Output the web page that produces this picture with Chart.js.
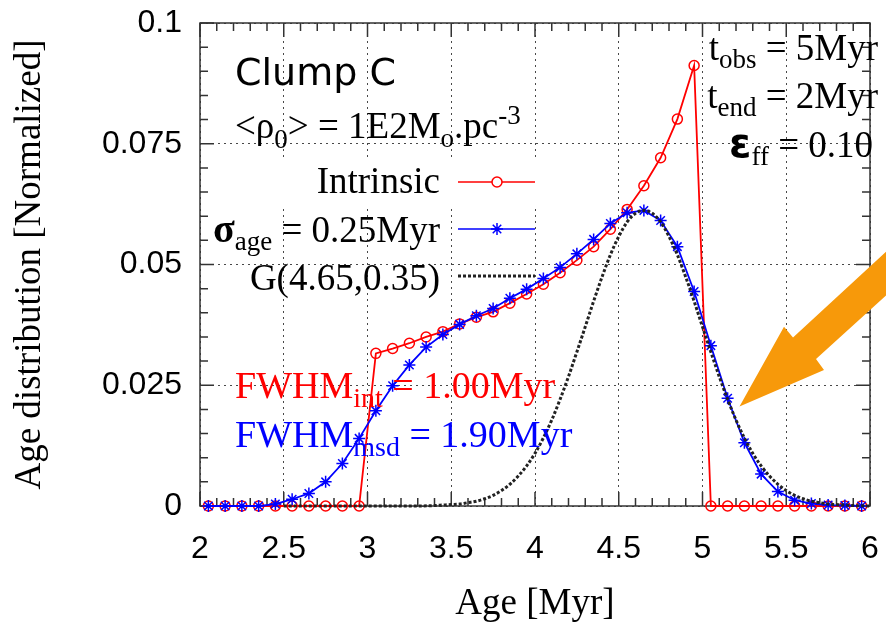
<!DOCTYPE html>
<html>
<head>
<meta charset="utf-8">
<script src="https://cdn.jsdelivr.net/npm/chart.js@4.4.0/dist/chart.umd.min.js"></script>
<style>
  html, body { margin: 0; padding: 0; background: #fff; }
  canvas { display: block; }
</style>
</head>
<body>
<canvas id="ageChart" width="886" height="636"></canvas>
<script>
// bin centres [Myr]
const ages = [2.05, 2.15, 2.25, 2.35, 2.45, 2.55, 2.65, 2.75, 2.85, 2.95,
              3.05, 3.15, 3.25, 3.35, 3.45, 3.55, 3.65, 3.75, 3.85, 3.95,
              4.05, 4.15, 4.25, 4.35, 4.45, 4.55, 4.65, 4.75, 4.85, 4.95,
              5.05, 5.15, 5.25, 5.35, 5.45, 5.55, 5.65, 5.75, 5.85, 5.95];
// intrinsic age distribution (red circles)
const intrinsic = [0, 0, 0, 0, 0, 0, 0, 0, 0, 0,
                   0.0316, 0.0326, 0.0337, 0.0350, 0.0361, 0.0377, 0.0391, 0.0402, 0.0420, 0.0439,
                   0.0459, 0.0483, 0.0509, 0.0537, 0.0573, 0.0614, 0.0663, 0.0721, 0.0801, 0.0912,
                   0, 0, 0, 0, 0, 0, 0, 0, 0, 0];
// sigma_age = 0.25 Myr (blue stars)
const measured = [0, 0, 0, 0, 0.0004, 0.0014, 0.0026, 0.0050, 0.0088, 0.0140,
                  0.0197, 0.0249, 0.0292, 0.0329, 0.0355, 0.0376, 0.0394, 0.0409, 0.0430, 0.0449,
                  0.0471, 0.0494, 0.0522, 0.0552, 0.0585, 0.0607, 0.0612, 0.0591, 0.0537, 0.0444,
                  0.0332, 0.0223, 0.0131, 0.0066, 0.0030, 0.0012, 0.0005, 0.0002, 0.0001, 0];
// G(4.65,0.35) dotted curve
const gaussAges = [2.5, 3.0, 3.3,
                   3.40, 3.45, 3.50, 3.55, 3.60, 3.65, 3.70, 3.75, 3.80, 3.85, 3.90, 3.95,
                   4.00, 4.05, 4.10, 4.15, 4.20, 4.25, 4.30, 4.35, 4.40, 4.45, 4.50, 4.55,
                   4.60, 4.65, 4.70, 4.75, 4.80, 4.85, 4.90, 4.95, 5.00, 5.05, 5.10, 5.15,
                   5.20, 5.25, 5.30, 5.35, 5.40, 5.45, 5.50, 5.55, 5.60, 5.65, 5.70, 5.75,
                   5.80, 5.85, 5.90, 6.0];
const gaussValues = [0, 0, 0,
                     0.0001, 0.0002, 0.0003, 0.0004, 0.0007, 0.0010, 0.0015, 0.0022, 0.0032, 0.0045, 0.0062, 0.0083,
                     0.0109, 0.0141, 0.0178, 0.0221, 0.0268, 0.0319, 0.0371, 0.0424, 0.0474, 0.0520, 0.0558, 0.0588,
                     0.0606, 0.0612, 0.0606, 0.0588, 0.0558, 0.0520, 0.0474, 0.0424, 0.0371, 0.0319, 0.0268, 0.0221,
                     0.0178, 0.0141, 0.0109, 0.0083, 0.0062, 0.0045, 0.0032, 0.0022, 0.0015, 0.0010, 0.0007, 0.0004,
                     0.0003, 0.0002, 0.0001, 0];

const xTicks = [2, 2.5, 3, 3.5, 4, 4.5, 5, 5.5, 6];
const xTickLabels = ['2', '2.5', '3', '3.5', '4', '4.5', '5', '5.5', '6'];
const yTicks = [0, 0.025, 0.05, 0.075, 0.1];
const yTickLabels = ['0', '0.025', '0.05', '0.075', '0.1'];

const SERIF = '"Liberation Serif", "Times New Roman", serif';
const RED = '#ff0000';
const BLUE = '#0000ff';

// text with sub/superscripts: parts = [text, font, dy]
function drawRich(ctx, parts, x, y, align, color) {
    ctx.fillStyle = color;
    ctx.textBaseline = 'alphabetic';
    ctx.textAlign = 'left';
    let total = 0;
    parts.forEach(p => { ctx.font = p[1]; total += ctx.measureText(p[0]).width; });
    let cx = align === 'right' ? x - total : x;
    parts.forEach(p => {
        ctx.font = p[1];
        ctx.fillText(p[0], cx, y + p[2]);
        cx += ctx.measureText(p[0]).width;
    });
}

const big = '37px ' + SERIF;
const small = '27px ' + SERIF;

const decorPlugin = {
    id: 'decor',
    beforeDatasetsDraw(chart) {
        const {ctx, chartArea: a, scales: {x, y}} = chart;
        ctx.save();
        // opaque key row
        ctx.fillStyle = '#fff';
        ctx.fillRect(a.left + 1, 158, 340, 49);

        // frame
        ctx.strokeStyle = '#333';
        ctx.lineWidth = 1.5;
        ctx.strokeRect(a.left, a.top, a.right - a.left, a.bottom - a.top);

        // inward ticks on all sides
        ctx.beginPath();
        for (let i = 0; i <= 40; i++) {
            const px = x.getPixelForValue(2 + i * 0.1);
            const len = i % 5 === 0 ? 14 : 8;
            ctx.moveTo(px, a.bottom); ctx.lineTo(px, a.bottom - len);
            ctx.moveTo(px, a.top); ctx.lineTo(px, a.top + len);
        }
        for (let i = 0; i <= 20; i++) {
            const py = y.getPixelForValue(i * 0.005);
            const len = i % 5 === 0 ? 14 : 8;
            ctx.moveTo(a.left, py); ctx.lineTo(a.left + len, py);
            ctx.moveTo(a.right, py); ctx.lineTo(a.right - len, py);
        }
        ctx.stroke();
        ctx.restore();
    },
    afterDraw(chart) {
        const ctx = chart.ctx;
        ctx.save();

        ctx.fillStyle = '#000';
        ctx.font = '38px "DejaVu Sans", sans-serif';
        ctx.textBaseline = 'alphabetic';
        ctx.fillText('Clump C', 235, 85);

        drawRich(ctx, [['<ρ', big, 0], ['0', small, 10], ['> = 1E2M', big, 0], ['o', small, 9],
                       ['.pc', big, 0], ['-3', small, -14]], 235, 138, 'left', '#000');

        // key
        drawRich(ctx, [['Intrinsic', big, 0]], 440, 193, 'right', '#000');
        drawRich(ctx, [['σ', 'bold 40px ' + SERIF, 0], ['age', small, 8], [' = 0.25Myr', big, 0]], 440, 242, 'right', '#000');
        drawRich(ctx, [['G(4.65,0.35)', big, 0]], 440, 290, 'right', '#000');

        ctx.lineWidth = 1.5;
        ctx.strokeStyle = RED;
        ctx.beginPath(); ctx.moveTo(458, 182); ctx.lineTo(535, 182); ctx.stroke();
        ctx.fillStyle = '#fff';
        Chart.helpers.drawPoint(ctx, {pointStyle: 'circle', radius: 5, rotation: 0, borderWidth: 1.5}, 497, 182);
        ctx.strokeStyle = BLUE;
        ctx.beginPath(); ctx.moveTo(458, 229); ctx.lineTo(535, 229); ctx.stroke();
        Chart.helpers.drawPoint(ctx, {pointStyle: 'star', radius: 6, rotation: 0, borderWidth: 1.5}, 497, 229);
        ctx.strokeStyle = '#222';
        ctx.lineWidth = 3;
        ctx.setLineDash([3, 2]);
        ctx.beginPath(); ctx.moveTo(458, 276); ctx.lineTo(535, 276); ctx.stroke();
        ctx.setLineDash([]);

        // run parameters
        drawRich(ctx, [['t', big, 0], ['obs', small, 8], [' = 5Myr', big, 0]], 878, 60, 'right', '#000');
        drawRich(ctx, [['t', big, 0], ['end', small, 8], [' = 2Myr', big, 0]], 878, 108, 'right', '#000');
        drawRich(ctx, [['ε', 'bold 40px "DejaVu Sans", sans-serif', 0], ['ff', small, 8], [' = 0.10', big, 0]], 873, 157, 'right', '#000');

        const fw = '38px ' + SERIF;
        const fws = '28px ' + SERIF;
        drawRich(ctx, [['FWHM', fw, 0], ['int', fws, 9], [' = 1.00Myr', fw, 0]], 235, 398, 'left', RED);
        drawRich(ctx, [['FWHM', fw, 0], ['msd', fws, 9], [' = 1.90Myr', fw, 0]], 235, 447, 'left', BLUE);

        // orange arrow annotation
        ctx.fillStyle = '#f7990a';
        ctx.beginPath();
        [[739.5, 406.5], [784, 326.7], [793, 337.5], [890, 248], [890, 292],
         [816, 359], [824, 370]].forEach((p, i) => i ? ctx.lineTo(p[0], p[1]) : ctx.moveTo(p[0], p[1]));
        ctx.closePath();
        ctx.fill();

        ctx.restore();
    }
};

const pts = (xs, ys) => xs.map((v, i) => ({x: v, y: ys[i]}));
const noPad = s => { s.paddingTop = 0; s.paddingBottom = 0; s.paddingLeft = 0; s.paddingRight = 0; };

new Chart(document.getElementById('ageChart'), {
    type: 'line',
    data: {
        datasets: [{
            label: 'Intrinsic',
            data: pts(ages, intrinsic),
            borderColor: RED,
            borderWidth: 1.8,
            pointStyle: 'circle',
            pointRadius: 5,
            pointBorderWidth: 1.5,
            pointBorderColor: RED,
            pointBackgroundColor: 'rgba(0,0,0,0)',
            tension: 0,
            clip: false,
            order: 2
        }, {
            label: 'sigma_age = 0.25Myr',
            data: pts(ages, measured),
            borderColor: BLUE,
            borderWidth: 1.8,
            pointStyle: 'star',
            pointRadius: 6,
            pointBorderWidth: 1.5,
            pointBorderColor: BLUE,
            pointBackgroundColor: BLUE,
            tension: 0,
            clip: false,
            order: 1
        }, {
            label: 'G(4.65,0.35)',
            data: pts(gaussAges, gaussValues),
            borderColor: '#222',
            borderWidth: 3,
            borderDash: [3, 2],
            pointRadius: 0,
            cubicInterpolationMode: 'monotone',
            clip: false,
            order: 0
        }]
    },
    options: {
        responsive: false,
        animation: false,
        devicePixelRatio: 1,
        layout: {padding: {left: 0, right: 16, top: 23, bottom: 0}},
        plugins: {legend: {display: false}, tooltip: {enabled: false}},
        scales: {
            x: {
                type: 'linear',
                min: 2, max: 6,
                afterBuildTicks: s => { s.ticks = xTicks.map(v => ({value: v})); },
                afterFit: s => { s.height = 130; noPad(s); },
                ticks: {
                    callback: (v, i) => xTickLabels[i],
                    font: {family: '"Liberation Sans", sans-serif', size: 32},
                    color: '#000',
                    padding: 24,
                    maxRotation: 0
                },
                grid: {color: 'rgba(40,40,40,0.85)', lineWidth: 1, drawTicks: false},
                border: {display: false, dash: [2, 4]},
                title: {
                    display: true,
                    text: 'Age [Myr]',
                    font: {family: SERIF, size: 37},
                    color: '#000',
                    padding: {top: 0, bottom: 10}
                }
            },
            y: {
                min: 0, max: 0.1,
                afterBuildTicks: s => { s.ticks = yTicks.map(v => ({value: v})); },
                afterFit: s => { s.width = 200; noPad(s); },
                ticks: {
                    callback: (v, i) => yTickLabels[i],
                    font: {family: '"Liberation Sans", sans-serif', size: 32},
                    color: '#000',
                    padding: 18
                },
                grid: {color: 'rgba(40,40,40,0.85)', lineWidth: 1, drawTicks: false},
                border: {display: false, dash: [2, 4]},
                title: {
                    display: true,
                    text: 'Age distribution [Normalized]',
                    font: {family: SERIF, size: 37},
                    color: '#000',
                    padding: {top: 8, bottom: 0}
                }
            }
        }
    },
    plugins: [decorPlugin]
});
</script>
</body>
</html>
